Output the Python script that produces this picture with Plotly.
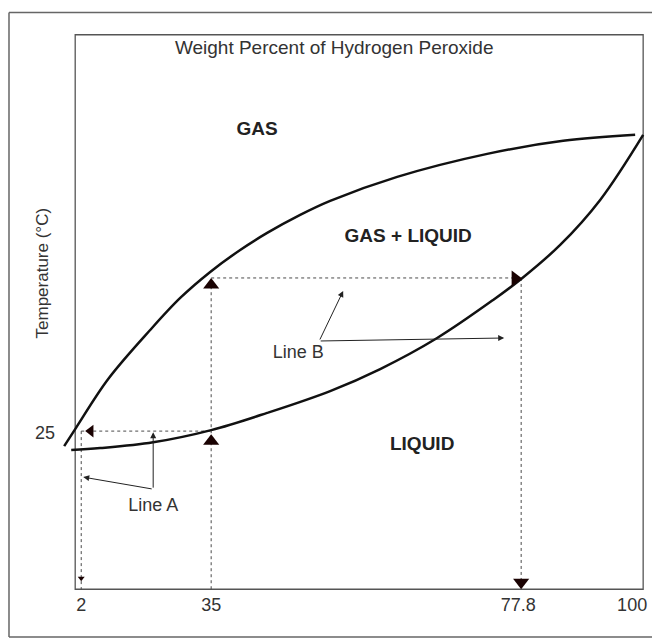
import plotly.graph_objects as go

# ---- data (schematic diagram units: 0-100 on both axes) ----
upper_x = [-1.94, 0.0, 5.81, 13.20, 18.49, 23.77, 29.05, 33.80, 39.61, 44.89, 56.69, 72.54, 85.92, 98.59]
upper_y = [25.81, 28.88, 37.91, 46.75, 52.53, 57.22, 61.19, 64.26, 67.51, 70.04, 74.37, 78.52, 80.87, 81.95]

lower_x = [-0.70, 4.40, 13.73, 23.94, 33.80, 44.89, 53.70, 63.73, 73.59, 78.52, 85.39, 92.43, 100.0]
lower_y = [25.09, 25.45, 26.5, 28.70, 31.8, 35.74, 39.71, 45.31, 52.17, 55.96, 62.1, 70.22, 81.95]

# dashed construction lines (segments separated by None)
dash_x = [1.06, 23.94, None, 1.06, 1.06, None, 23.94, 23.94, None, 23.94, 78.52, None, 78.52, 78.52]
dash_y = [28.52, 28.52, None, 28.52, 0.0, None, 0.0, 56.14, None, 56.14, 56.14, None, 56.14, 0.0]

# filled triangles
tri_x = [2.73, 23.94, 23.94, 77.46, 78.52, 1.06]
tri_y = [28.52, 26.7, 54.87, 56.05, 1.26, 1.99]
tri_sym = ["triangle-left", "triangle-up", "triangle-up", "triangle-right", "triangle-down", "triangle-down"]
tri_size = [11, 14, 14, 14, 14, 6]

# x tick labels (weight percent) and y tick label (temperature)
x_tickpos = [1.06, 23.94, 78.0, 98.06]
x_ticktext = ["2", "35", "77.8", "100"]
y_tickpos = [28.16]
y_ticktext = ["25"]

# region labels
region_text = ["GAS", "GAS + LIQUID", "LIQUID"]
region_x = [32.04, 58.63, 61.09]
region_y = [82.85, 63.54, 25.99]

# line labels
line_text = ["Line A", "Line B"]
line_x = [13.73, 39.26]
line_y = [14.98, 42.6]

# pointer arrows: (tail_x, tail_y, head_x, head_y)
arrow_tail_x = [13.73, 13.73, 42.96, 42.96]
arrow_tail_y = [18.05, 18.05, 44.77, 44.77]
arrow_head_x = [13.73, 1.41, 47.18, 75.53]
arrow_head_y = [28.3, 20.22, 53.79, 45.31]

FONT = "Liberation Sans, Arial, Helvetica, sans-serif"
TXT = "#333333"

fig = go.Figure()

fig.add_trace(go.Scatter(x=dash_x, y=dash_y, mode="lines",
                         line=dict(color="#4a4a4a", width=1, dash="3px,3px"),
                         hoverinfo="skip", showlegend=False))
fig.add_trace(go.Scatter(x=upper_x, y=upper_y, mode="lines",
                         line=dict(color="#111111", width=2.5, shape="spline", smoothing=1.0),
                         showlegend=False))
fig.add_trace(go.Scatter(x=lower_x, y=lower_y, mode="lines",
                         line=dict(color="#111111", width=2.5, shape="spline", smoothing=1.0),
                         showlegend=False))
fig.add_trace(go.Scatter(x=tri_x, y=tri_y, mode="markers",
                         marker=dict(symbol=tri_sym, size=tri_size, color="#1a0202",
                                     opacity=1, line=dict(width=0)),
                         showlegend=False))
fig.add_trace(go.Scatter(x=region_x, y=region_y, mode="text", text=region_text,
                         textfont=dict(family=FONT, size=19, color="#222222"),
                         texttemplate="<b>%{text}</b>",
                         showlegend=False))
fig.add_trace(go.Scatter(x=line_x, y=line_y, mode="text", text=line_text,
                         textfont=dict(family=FONT, size=18, color=TXT),
                         showlegend=False))

for tx, ty, hx, hy in zip(arrow_tail_x, arrow_tail_y, arrow_head_x, arrow_head_y):
    fig.add_annotation(x=hx, y=hy, ax=tx, ay=ty, xref="x", yref="y", axref="x", ayref="y",
                       text="", showarrow=True, arrowhead=2, arrowsize=1.2, arrowwidth=1,
                       arrowcolor="#222222", standoff=0, startstandoff=0)

# inner box
fig.add_shape(type="rect", xref="x", yref="y", x0=0, x1=100, y0=0, y1=100,
              line=dict(color="#555555", width=1.3), layer="below")
# outer frame: left, top and bottom edges (right side runs off the page)
frame = dict(color="#666666", width=1.5)
fig.add_shape(type="line", xref="paper", yref="paper", x0=-0.0889, x1=-0.0889,
              y0=-0.0804, y1=1.0348, line=frame, layer="below")
fig.add_shape(type="line", xref="paper", yref="paper", x0=-0.0889, x1=1.2,
              y0=1.0348, y1=1.0348, line=frame, layer="below")
fig.add_shape(type="line", xref="paper", yref="paper", x0=-0.0889, x1=1.2,
              y0=-0.0804, y1=-0.0804, line=frame, layer="below")

# y axis title (placed as rotated text)
fig.add_annotation(text="Temperature (°C)", xref="paper", yref="y", x=-0.032, y=57.0,
                   textangle=-90, showarrow=False, xanchor="center", yanchor="middle",
                   font=dict(family=FONT, size=17, color=TXT))

# page body has an 8px margin, so the figure is sized/offset to fit the 660x638 window
fig.update_layout(
    width=652, height=630,
    margin=dict(l=53, r=14, t=24, b=46),
    paper_bgcolor="white", plot_bgcolor="white",
    font=dict(family=FONT, color=TXT),
    title=dict(text="Weight Percent of Hydrogen Peroxide", x=0.467, y=0.972,
               xref="paper", yref="paper", xanchor="center", yanchor="middle",
               font=dict(family=FONT, size=19, color=TXT)),
    showlegend=False,
)
fig.update_xaxes(range=[-2.5, 100.5], showgrid=False, zeroline=False, showline=False,
                 ticks="", tickmode="array", tickvals=x_tickpos, ticktext=x_ticktext,
                 tickfont=dict(family=FONT, size=18, color=TXT), fixedrange=True)
fig.update_yaxes(range=[-0.5, 100.5], showgrid=False, zeroline=False, showline=False,
                 ticks="", tickmode="array", tickvals=y_tickpos, ticktext=y_ticktext,
                 ticklabelstandoff=5,
                 tickfont=dict(family=FONT, size=18, color=TXT), fixedrange=True)

fig.write_html("out.html")
